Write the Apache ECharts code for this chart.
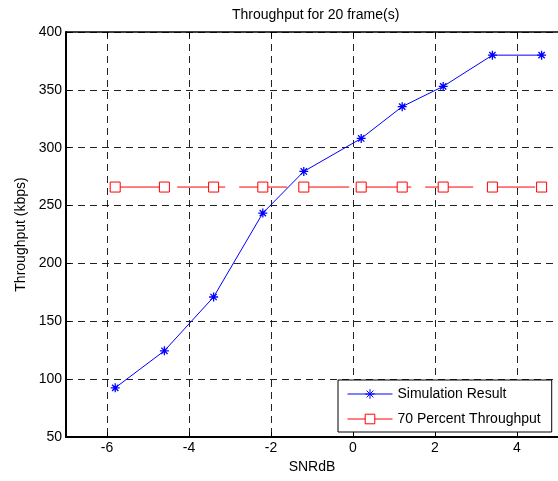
<!DOCTYPE html>
<html>
<head>
<meta charset="utf-8">
<script src="https://cdn.jsdelivr.net/npm/echarts@6/dist/echarts.min.js"></script>
<style>
  html, body { margin: 0; padding: 0; background: #fff; }
  #main { width: 558px; height: 481px; }
</style>
</head>
<body>
<div id="main"></div>
<script>
// values
var snrDb = [-5.8, -4.6, -3.4, -2.2, -1.2, 0.2, 1.2, 2.2, 3.4, 4.6];
var simThroughput = [92.5, 124.5, 171, 243.5, 279.5, 308, 335.5, 353, 380, 380];
var pct70Throughput = [266, 266, 266, 266, 266, 266, 266, 266, 266, 266];
var xTicks = [-6, -4, -2, 0, 2, 4];

var FONT = 'Liberation Sans, Arial, sans-serif';

function pairs(xs, ys) {
    var out = [];
    for (var i = 0; i < xs.length; i++) out.push([xs[i], ys[i]]);
    return out;
}

// asterisk marker like matlab '*'
var asterisk = 'path://M0 5 L10 5 M5 0 L5 10 M1.5 1.5 L8.5 8.5 M8.5 1.5 L1.5 8.5';

var gridDash = {show: true, lineStyle: {color: '#222', width: 1, type: [7, 5]}};

var myChart = echarts.init(document.getElementById('main'));
var option = {
    animation: false,
    backgroundColor: '#fff',
    textStyle: {fontFamily: FONT},
    title: {
        text: 'Throughput for 20 frame(s)',
        left: 227,
        top: 3,
        textStyle: {fontSize: 14, fontWeight: 'normal', color: '#000', fontFamily: FONT}
    },
    grid: {left: 66, right: 0, top: 32, bottom: 44, containLabel: false},
    legend: {
        left: 338,
        top: 380,
        orient: 'vertical',
        backgroundColor: '#fff',
        borderColor: '#000',
        borderWidth: 1,
        borderRadius: 0,
        padding: [7, 11, 6, 9],
        itemGap: 11,
        itemWidth: 45,
        itemHeight: 12,
        lineStyle: {width: 1},
        itemStyle: {borderWidth: 1},
        textStyle: {fontSize: 14, color: '#000', fontFamily: FONT},
        data: ['Simulation Result', '70 Percent Throughput']
    },
    xAxis: [
        {
            type: 'value',
            min: -7,
            max: 5,
            name: 'SNRdB',
            nameLocation: 'middle',
            nameGap: 23,
            nameTextStyle: {fontSize: 14, color: '#000', fontFamily: FONT},
            axisLine: {show: true, onZero: false, lineStyle: {color: '#000', width: 2}},
            axisTick: {show: true, inside: true, length: 5, customValues: xTicks, lineStyle: {color: '#000'}},
            axisLabel: {show: true, margin: 4, fontSize: 14, color: '#000', fontFamily: FONT, customValues: xTicks},
            splitLine: gridDash
        },
        {
            type: 'value',
            position: 'top',
            min: -7,
            max: 5,
            axisLine: {show: true, onZero: false, lineStyle: {color: '#000', width: 1.5}},
            axisTick: {show: true, inside: true, length: 5, customValues: xTicks, lineStyle: {color: '#000'}},
            axisLabel: {show: false},
            splitLine: {show: false}
        }
    ],
    yAxis: {
        type: 'value',
        min: 50,
        max: 400,
        interval: 50,
        name: 'Throughput (kbps)',
        nameLocation: 'middle',
        nameGap: 37,
        nameTextStyle: {fontSize: 14, color: '#000', fontFamily: FONT},
        axisLine: {show: true, onZero: false, lineStyle: {color: '#000', width: 2}},
        axisTick: {show: true, inside: true, length: 5, lineStyle: {color: '#000'}},
        axisLabel: {margin: 4, fontSize: 14, color: '#000', fontFamily: FONT},
        splitLine: gridDash
    },
    series: [
        {
            name: 'Simulation Result',
            type: 'line',
            xAxisIndex: 0,
            data: pairs(snrDb, simThroughput),
            symbol: asterisk,
            symbolSize: 9,
            lineStyle: {color: '#0000ff', width: 1},
            itemStyle: {color: '#0000ff', borderColor: '#0000ff', borderWidth: 1.3}
        },
        {
            name: '70 Percent Throughput',
            type: 'line',
            xAxisIndex: 0,
            data: pairs(snrDb, pct70Throughput),
            symbol: 'rect',
            symbolSize: 10,
            lineStyle: {color: '#ff0000', width: 1, type: [48, 14]},
            itemStyle: {color: '#ffffff', borderColor: '#ff0000', borderWidth: 1}
        }
    ]
};
myChart.setOption(option);
</script>
</body>
</html>
